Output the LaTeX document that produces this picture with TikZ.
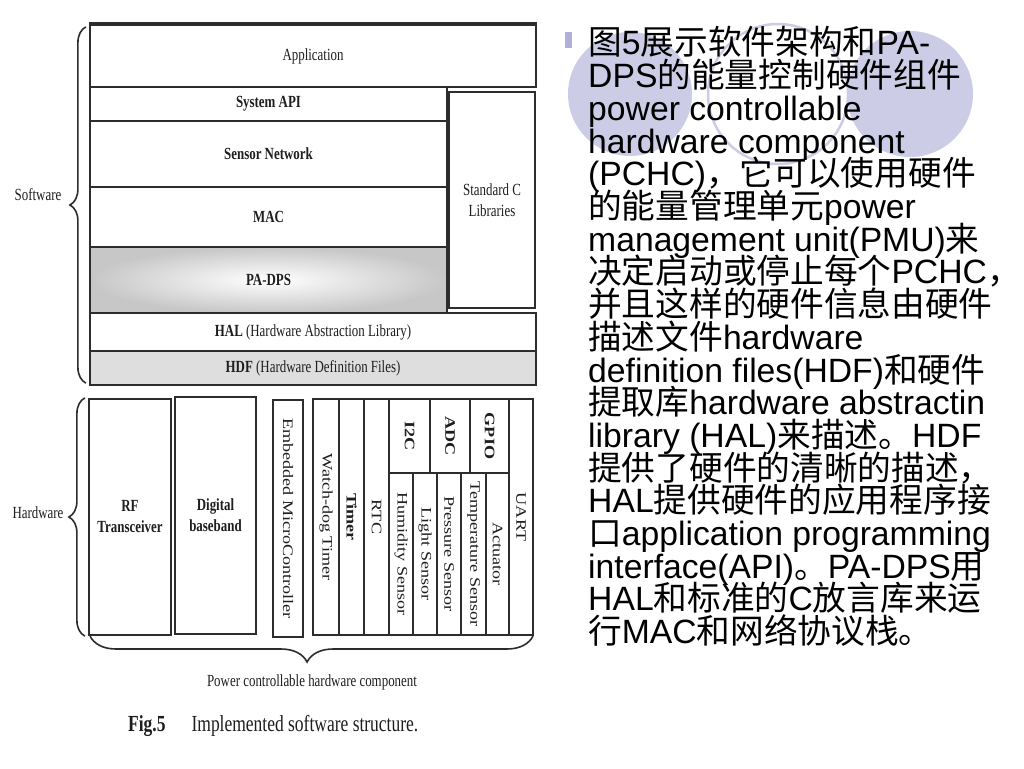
\documentclass[tikz,border=0pt]{standalone}
\usepackage{fontspec}
\setmainfont{Liberation Serif}
\newfontfamily\figfont[FakeStretch=0.76]{Liberation Serif}
\newfontfamily\vertfont[FakeStretch=1.25]{Liberation Serif}
\newfontfamily\arialfont{Liberation Sans}
\newfontfamily\cjkfont{Noto Sans CJK SC}
\usetikzlibrary{decorations.pathreplacing}
\definecolor{lav}{RGB}{204,204,230}
\definecolor{lavdark}{RGB}{176,176,216}
\definecolor{boxc}{RGB}{45,45,45}
\definecolor{txtc}{RGB}{30,30,30}
\newcommand{\zh}[1]{{\cjkfont #1}}
\begin{document}
\begin{tikzpicture}[x=1pt, y=-1pt,
  layer/.style={rectangle, draw=boxc, line width=2.2pt, inner sep=0pt, align=center, text=txtc, font=\figfont\fontsize{17}{21}\selectfont},
  vlayer/.style={layer, rotate=-90, font=\vertfont\fontsize{14.5}{17}\selectfont},
  side/.style={text=txtc, inner sep=0pt, font=\figfont\fontsize{17}{20}\selectfont},
  curly/.style={decorate, decoration={brace, amplitude=16pt}, draw=boxc, line width=1.6pt},
  para/.style={inner sep=0pt, anchor=base west, font=\arialfont\fontsize{33.7}{33.7}\selectfont}]
\useasboundingbox (0,0) rectangle (1024,768);
% background circles
\fill[lav] (630,94) circle (62pt);
\draw[lav, line width=2.5pt] (778,94) circle (70pt);
\fill[lav] (910,94) circle (63pt);
\fill[lavdark] (565,32) rectangle (572,48);
\fill[white] (0,0) rectangle (565,768);
% software layers
\node[layer, minimum width=446pt, minimum height=62pt] (app) at (313,56) {Application};
\draw[boxc, line width=4.5pt] (app.north west) -- (app.north east);
\node[layer, minimum width=357pt, minimum height=34pt] (sysapi) at (268.5,104) {\bfseries System API};
\node[layer, minimum width=357pt, minimum height=66pt] (sensnet) at (268.5,154) {\bfseries Sensor Network};
\node[layer, minimum width=357pt, minimum height=60pt] (mac) at (268.5,217) {\bfseries MAC};
\node[layer, minimum width=357pt, minimum height=66pt, inner color=white, outer color=black!22, shading=radial] (padps) at (268.5,280) {\bfseries PA-DPS};
\node[layer, minimum width=86pt, minimum height=216pt] (stdc) at (492,200) {Standard C\\Libraries};
\node[layer, minimum width=446pt, minimum height=38pt] (hal) at (313,332) {{\bfseries HAL} (Hardware Abstraction Library)};
\node[layer, minimum width=446pt, minimum height=34pt, fill=black!13] (hdf) at (313,368) {{\bfseries HDF} (Hardware Definition Files)};
% hardware blocks
\node[layer, minimum width=82pt, minimum height=236pt] (rf) at (130,517) {\bfseries RF\\\bfseries Transceiver};
\node[layer, minimum width=81pt, minimum height=237pt] (dbb) at (215.5,515.5) {\bfseries Digital\\\bfseries baseband};
\node[vlayer, minimum width=237pt, minimum height=30pt] (emc) at (288,518.5) {Embedded MicroController};
\node[vlayer, minimum width=236pt, minimum height=26pt] (wdt) at (326,517) {Watch-dog Timer};
\node[vlayer, minimum width=236pt, minimum height=25pt] (tmr) at (351.5,517) {\bfseries Timer};
\node[vlayer, minimum width=236pt, minimum height=25pt] (rtc) at (376.5,517) {RTC};
\node[vlayer, minimum width=74pt, minimum height=41pt] (i2c) at (409.5,436) {\bfseries I2C};
\node[vlayer, minimum width=74pt, minimum height=40pt] (adc) at (450,436) {\bfseries ADC};
\node[vlayer, minimum width=74pt, minimum height=39pt] (gpio) at (489.5,436) {\bfseries GPIO};
\node[vlayer, minimum width=162pt, minimum height=24pt] (hum) at (401,554) {Humidity Sensor};
\node[vlayer, minimum width=162pt, minimum height=24pt] (lgt) at (425,554) {Light Sensor};
\node[vlayer, minimum width=162pt, minimum height=24pt] (prs) at (449,554) {Pressure Sensor};
\node[vlayer, minimum width=162pt, minimum height=25pt] (tmp) at (473.5,554) {Temperature Sensor};
\node[vlayer, minimum width=162pt, minimum height=23pt] (act) at (497.5,554) {Actuator};
\node[vlayer, minimum width=236pt, minimum height=24pt] (uart) at (521,517) {UART};
% braces and labels
\node[side] (sw) at (38,195) {Software};
\node[side] (hw) at (38,513) {Hardware};
\draw[curly] ([xshift=-3pt, yshift=3pt]hdf.south west) -- ([xshift=-3pt, yshift=-3pt]app.north west);
\draw[curly] ([xshift=-3pt]rf.south west) -- ([xshift=-3pt]rf.north west);
\coordinate (pchcL) at (90,636);
\coordinate (pchcR) at (533,636);
\draw[curly, decoration={mirror, amplitude=26pt, aspect=0.49}] (pchcL) -- (pchcR);
\node[side] (pchc) at (312,682) {Power controllable hardware component};
\node[side, anchor=west, font=\figfont\fontsize{23}{26}\selectfont] (cap) at (128,726) {{\bfseries Fig.5}\hspace{26pt}Implemented software structure.};
% explanation text
\foreach \txt [count=\i] in {{\zh{图}5\zh{展示软件架构和}PA-},
  {DPS\zh{的能量控制硬件组件}},
  {power controllable},
  {hardware component},
  {(PCHC)\zh{，它可以使用硬件}},
  {\zh{的能量管理单元}power},
  {management unit(PMU)\zh{来}},
  {\zh{决定启动或停止每个}PCHC\zh{，}},
  {\zh{并且这样的硬件信息由硬件}},
  {\zh{描述文件}hardware},
  {definition files(HDF)\zh{和硬件}},
  {\zh{提取库}hardware abstractin},
  {library (HAL)\zh{来描述。}HDF},
  {\zh{提供了硬件的清晰的描述，}},
  {HAL\zh{提供硬件的应用程序接}},
  {\zh{口}application programming},
  {interface(API)\zh{。}PA-DPS\zh{用}},
  {HAL\zh{和标准的}C\zh{放言库来运}},
  {\zh{行}MAC\zh{和网络协议栈。}}}
  \node[para] (line\i) at (588,{55+32.7*(\i-1)}) {\txt};
\end{tikzpicture}
\end{document}
